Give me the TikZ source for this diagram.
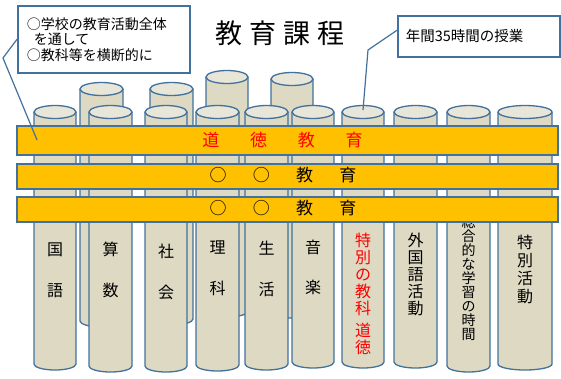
\documentclass[tikz,border=0pt]{standalone}
\usepackage{fontspec}
\setmainfont{Noto Sans CJK JP}
\definecolor{cylfill}{HTML}{DDD9C3}
\definecolor{cyltop}{HTML}{E8E5D9}
\definecolor{lineblue}{HTML}{41719C}
\definecolor{barorange}{HTML}{FFC000}
\definecolor{redtext}{HTML}{FF0000}
\newcommand{\drawcyl}[4]{%
  \pgfmathsetmacro{\cylrx}{(#2-#1)/2}%
  \pgfmathsetmacro{\cylxc}{(#2+#1)/2}%
  \fill[cylfill] (#1,#3) -- (#1,#4) arc[start angle=180,end angle=360,x radius=\cylrx pt,y radius=6pt] -- (#2,#3) -- cycle;
  \draw[cylline] (#1,#3) -- (#1,#4) arc[start angle=180,end angle=360,x radius=\cylrx pt,y radius=6pt] -- (#2,#3);
  \filldraw[fill=cyltop, cylline] (\cylxc,#3) ellipse[x radius=\cylrx pt, y radius=6.5pt];
}
\begin{document}
\begin{tikzpicture}[x=1pt,y=-1pt,
  cylline/.style={draw=lineblue, line width=1.3pt},
  cyltext/.style={align=center, inner sep=0pt, font=\fontsize{16}{41}\selectfont},
  barbox/.style={rectangle, draw=lineblue, fill=barorange, line width=1.8pt, inner sep=0pt, anchor=north west, minimum width=541pt},
  bartext/.style={inner sep=0pt, font=\fontsize{17}{17}\selectfont},
  callout/.style={rectangle, draw=lineblue, line width=1.5pt, fill=white, anchor=north west, align=left},
  pointer/.style={draw=lineblue, line width=1.2pt}]
\useasboundingbox (0,0) rectangle (561,378);
% back cylinders
\drawcyl{80}{123}{89}{321}
\drawcyl{150}{193}{89}{319}
\drawcyl{206}{248}{77}{311}
\drawcyl{271}{313}{79}{312}
% front cylinders
\drawcyl{34}{76}{112}{364}
\drawcyl{89}{132}{112}{366}
\drawcyl{145}{187}{112}{366}
\drawcyl{196}{239}{112}{365}
\drawcyl{245}{288}{112}{364}
\drawcyl{292}{334}{112}{362}
\drawcyl{342}{384}{112}{362}
\drawcyl{394}{437}{112}{362}
\drawcyl{447}{490}{112}{366}
\drawcyl{498}{552}{112}{364}
% cylinder texts
\node[cyltext] (s1) at (55,270.5) {国\\語};
\node[cyltext] (s2) at (110.5,269.5) {算\\数};
\node[cyltext] (s3) at (166,271.5) {社\\会};
\node[cyltext] (s4) at (217.5,268.5) {理\\科};
\node[cyltext] (s5) at (266.5,269) {生\\活};
\node[cyltext, font=\fontsize{16}{40}\selectfont] (s6) at (313,267) {音\\楽};
\node[cyltext, text=redtext, font=\fontsize{16}{17}\selectfont] (s7) at (363,293.5) {特\\別\\の\\教\\科\\[5pt]道\\徳};
\node[cyltext, font=\fontsize{16}{17}\selectfont] (s8) at (415.5,274) {外\\国\\語\\活\\動};
\node[cyltext, font=\fontsize{14}{14}\selectfont] (s9) at (468.5,278) {総\\合\\的\\な\\学\\習\\の\\時\\間};
\node[cyltext, font=\fontsize{16}{18}\selectfont] (s10) at (525,269) {特\\別\\活\\動};
% bars
\node[barbox, minimum height=29pt] (bar1) at (16,125) {};
\node[barbox, minimum height=25pt] (bar2) at (16,163) {};
\node[barbox, minimum height=25pt] (bar3) at (16,196) {};
\node[bartext, text=redtext] (b1) at (282.5,140) {道\hspace{30.7pt}徳\hspace{30.7pt}教\hspace{30.7pt}育};
\node[bartext] (b2) at (283,175.5) {○\hspace{26.3pt}○\hspace{26.3pt}教\hspace{26.3pt}育};
\node[bartext] (b3) at (283,208.5) {○\hspace{26.3pt}○\hspace{26.3pt}教\hspace{26.3pt}育};
% callouts
\node[callout, minimum height=67pt, text width=154pt, inner xsep=9pt, font=\fontsize{14}{15.5}\selectfont] (lbox) at (17,5) {○学校の教育活動全体\\\hspace*{7pt}を通して\\○教科等を横断的に};
\coordinate (lp1) at (3,58);
\coordinate (lp2) at (37,140);
\draw[pointer] (lbox.west) -- (lp1) -- (lp2);
\node[callout, minimum height=41pt, text width=146pt, inner xsep=8pt, font=\fontsize{14.5}{16}\selectfont] (rbox) at (397,15) {年間35時間の授業};
\coordinate (rp1) at (368,50);
\coordinate (rp2) at (363,110);
\draw[pointer] ([yshift=6pt]rbox.west) -- (rp1) -- (rp2);
% title
\node[inner sep=0pt, font=\fontsize{27}{27}\selectfont] (title) at (280,33) {教\hspace{7pt}育\hspace{7pt}課\hspace{7pt}程};
\end{tikzpicture}
\end{document}
